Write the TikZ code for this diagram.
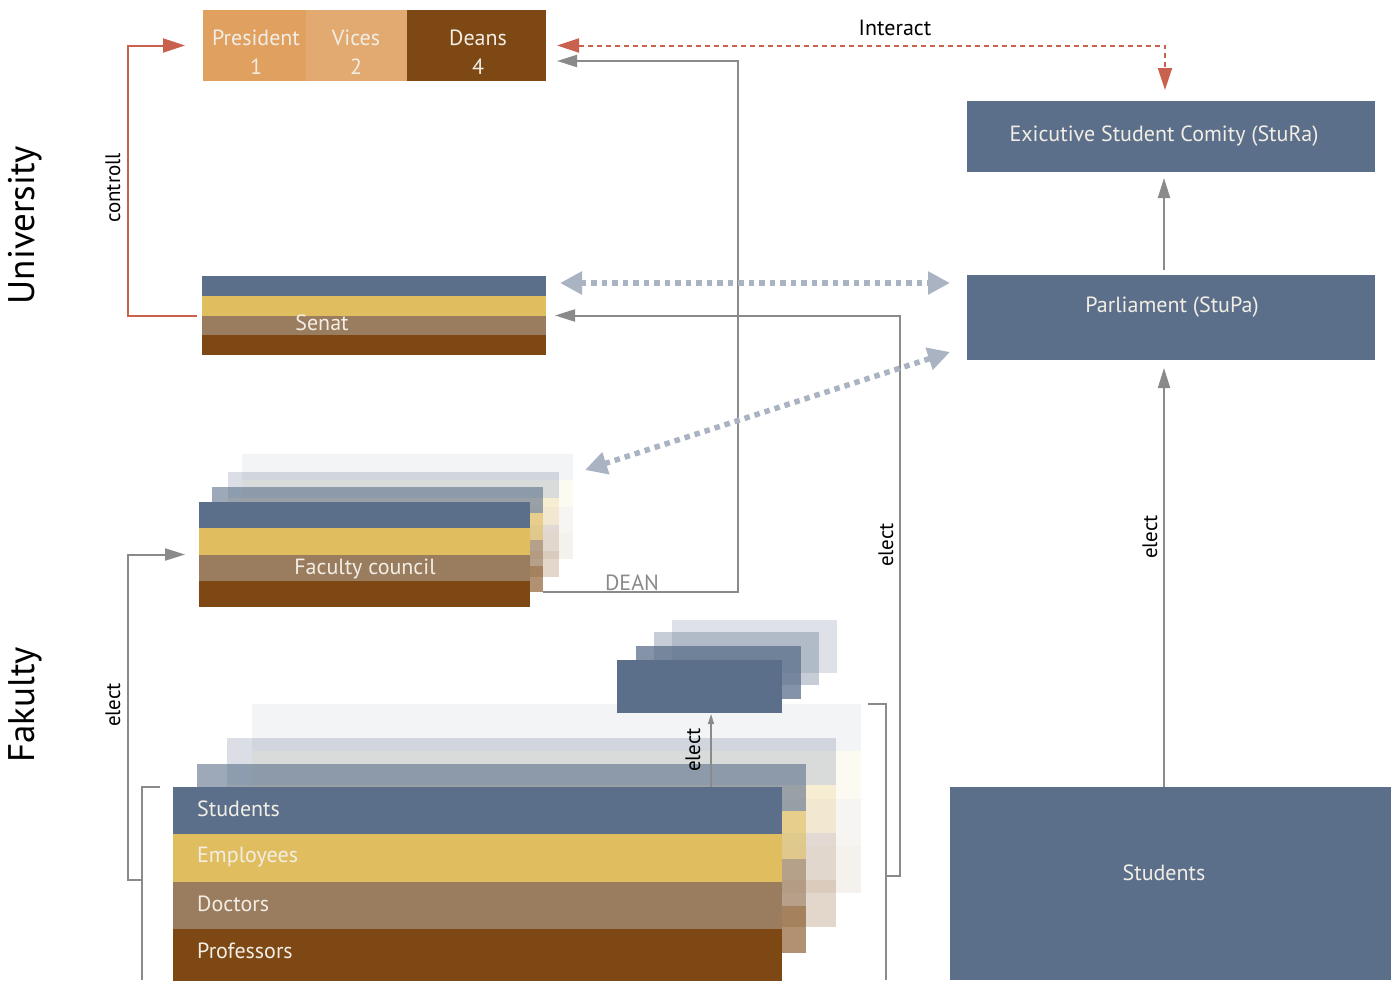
\documentclass[tikz,border=0pt]{standalone}
\usepackage{fontspec}
\setmainfont{PT Sans}
\usetikzlibrary{arrows.meta,calc}
\definecolor{cblue}{HTML}{5B6F8A}
\definecolor{cyel}{HTML}{E0BE5F}
\definecolor{ctan}{HTML}{9A7C5E}
\definecolor{cbrown}{HTML}{7E4815}
\definecolor{corange}{HTML}{E0A060}
\definecolor{corangeb}{HTML}{E2AA70}
\definecolor{cred}{HTML}{C8614E}
\definecolor{cgray}{HTML}{8A8A8A}
\definecolor{cdot}{HTML}{A9B3C2}
\definecolor{ctext}{HTML}{F2EEE6}
\newcommand\stackfour[6]{%
  \begin{scope}[opacity=#6]
    \fill[cblue]  (#2,#3) rectangle ++(#4,#5/4);
    \fill[cyel]   (#2,#3+#5/4) rectangle ++(#4,#5/4);
    \fill[ctan]   (#2,#3+#5/2) rectangle ++(#4,#5/4);
    \fill[cbrown] (#2,#3+3*#5/4) rectangle ++(#4,#5/4);
  \end{scope}
  \node[hold, minimum width=#4pt, minimum height=#5pt, anchor=north west] (#1) at (#2,#3) {};
}
\newcommand\bluelayer[6]{%
  \node[hold, fill=cblue, fill opacity=#6, minimum width=#4pt, minimum height=#5pt, anchor=north west] (#1) at (#2,#3) {};
}
\begin{document}
\begin{tikzpicture}[x=1pt,y=-1pt,
  hold/.style={inner sep=0pt, outer sep=0pt, draw=none},
  box/.style={inner sep=0pt, outer sep=0pt, anchor=north west},
  wtext/.style={text=ctext, font=\fontsize{22}{26}\selectfont, inner sep=0pt},
  ktext/.style={text=black, font=\fontsize{22}{26}\selectfont, inner sep=0pt},
  vlabel/.style={text=black, rotate=90, font=\fontsize{21}{24}\selectfont, inner sep=0pt},
  gline/.style={draw=cgray, line width=2pt},
  rline/.style={draw=cred, line width=2pt},
  garrow/.style={-{Triangle[length=20pt,width=12pt]}},
  rarrow/.style={-{Triangle[length=22pt,width=14pt]}},
  rboth/.style={{Triangle[length=22pt,width=14pt]}-{Triangle[length=22pt,width=14pt]}},
  sarrow/.style={-{Triangle[length=10pt,width=6pt]}},
  dotline/.style={draw=cdot, line width=5.5pt, dash pattern=on 5.5pt off 5pt,
     {Triangle[length=22pt,width=22pt]}-{Triangle[length=22pt,width=22pt]}},
]
\useasboundingbox (0,0) rectangle (1395,980);

% side labels
\node[rotate=90, font=\fontsize{37}{40}\selectfont] (univ) at (25,225) {University};
\node[rotate=90, font=\fontsize{37}{40}\selectfont] (fak) at (25,705) {Fakulty};

% rectorate
\node[box, fill=corange, minimum width=103pt, minimum height=71pt] (president) at (203,10) {};
\node[box, fill=corangeb, minimum width=101pt, minimum height=71pt] (vices) at (306,10) {};
\node[box, fill=cbrown, minimum width=139pt, minimum height=71pt] (deans) at (407,10) {};
\node[wtext, align=center, font=\fontsize{22}{29}\selectfont] (presl) at (256,52) {President\\1};
\node[wtext, align=center, font=\fontsize{22}{29}\selectfont] (vicesl) at (356,52) {Vices\\2};
\node[wtext, align=center, font=\fontsize{22}{29}\selectfont] (deansl) at (478,52) {Deans\\4};

% senat
\stackfour{senat}{202}{276}{344}{79}{1}
\node[wtext] (senatlbl) at (322,323) {Senat};

% faculty council
\stackfour{fcL4}{242}{454}{331}{105}{0.08}
\stackfour{fcL3}{228}{472}{331}{105}{0.22}
\stackfour{fcL2}{212}{487}{331}{105}{0.6}
\stackfour{fcF}{199}{502}{331}{105}{1}
\node[wtext] (fclbl) at (365,569) {Faculty council};

% small blue stack
\bluelayer{sbL4}{672}{620}{165}{53}{0.2}
\bluelayer{sbL3}{654}{632}{165}{53}{0.35}
\bluelayer{sbL2}{636}{646}{165}{53}{0.75}
\bluelayer{sbF}{617}{660}{165}{53}{1}

% students stack
\stackfour{stL4}{252}{704}{609}{189}{0.08}
\stackfour{stL3}{227}{738}{609}{189}{0.22}
\stackfour{stL2}{197}{764}{609}{189}{0.6}
\stackfour{stF}{173}{787}{609}{189}{1}
\fill[cbrown] (stF.south west) rectangle ++(609,5);
\node[wtext, anchor=west] (l1) at (197,809) {Students};
\node[wtext, anchor=west] (l2) at (197,857) {Employees};
\node[wtext, anchor=west] (l3) at (197,904) {Doctors};
\node[wtext, anchor=west] (l4) at (197,951) {Professors};

% right side
\node[box, fill=cblue, minimum width=408pt, minimum height=71pt] (stura) at (967,101) {};
\node[wtext] (sturalbl) at (1164,136) {Exicutive Student Comity (StuRa)};
\node[box, fill=cblue, minimum width=408pt, minimum height=85pt] (parl) at (967,275) {};
\node[wtext] (parllbl) at (1172,307) {Parliament (StuPa)};
\node[box, fill=cblue, minimum width=441pt, minimum height=193pt] (studs) at (950,787) {};
\node[wtext] (studslbl) at (1164,873) {Students};

% coordinates
\coordinate (ctrl) at (128,180);
\coordinate (deanc) at (738,592);
\coordinate (rbBot) at (886,980);
\coordinate (rbJ) at (886,876);
\coordinate (senElect) at (900,876);
\coordinate (lbBot) at (142,980);
\coordinate (lbJ) at (142,880);
\coordinate (lbE) at (128,880);
\coordinate (elb) at (711,787);
\coordinate (elt) at (711,714);
\coordinate (d1) at (560,283);
\coordinate (d2) at (950,283);
\coordinate (d3) at (585,470);
\coordinate (d4) at (950,352);

% connectors
\draw[rline, rarrow] ([xshift=-5pt]senat.west) -| (ctrl) |- ([xshift=-18pt]president.west);
\draw[rline, rboth, dash pattern=on 5pt off 4pt] ([xshift=11pt]deans.east) -| ([xshift=-6pt,yshift=11pt]stura.north);
\draw[gline, garrow] (fcL2.south east) -- (deanc) |- ([xshift=11pt,yshift=-15.5pt]deans.east);
\draw[gline] ([xshift=7pt]stL4.north east) -| (rbBot);
\draw[gline, garrow] (rbJ) -- (senElect) |- ([xshift=9pt]senat.east);
\draw[gline] ([xshift=-13pt]stF.north west) -| (lbBot);
\draw[gline, garrow] (lbJ) -- (lbE) |- ([xshift=-14pt]fcF.west);
\draw[gline, line width=1.5pt, sarrow] (elb) -- (elt);
\draw[gline, garrow] ([xshift=-6.5pt]studs.north) -- ([xshift=-7pt,yshift=-8pt]parl.south);
\draw[gline, garrow] ([xshift=-7pt,yshift=5pt]parl.north) -- ([xshift=-7pt,yshift=-6pt]stura.south);
\draw[dotline] (d1) -- (d2);
\draw[dotline] (d3) -- (d4);

% connector labels
\node[ktext] (interact) at (895,28) {Interact};
\node[text=cgray, font=\fontsize{22}{26}\selectfont, inner sep=0pt] (dean) at (632,583) {DEAN};
\node[vlabel] (controll) at (113,188) {controll};
\node[vlabel] (elect1) at (113,705) {elect};
\node[vlabel] (elect2) at (886,545) {elect};
\node[vlabel] (elect3) at (1150,537) {elect};
\node[vlabel] (elect4) at (693,750) {elect};
\end{tikzpicture}
\end{document}
